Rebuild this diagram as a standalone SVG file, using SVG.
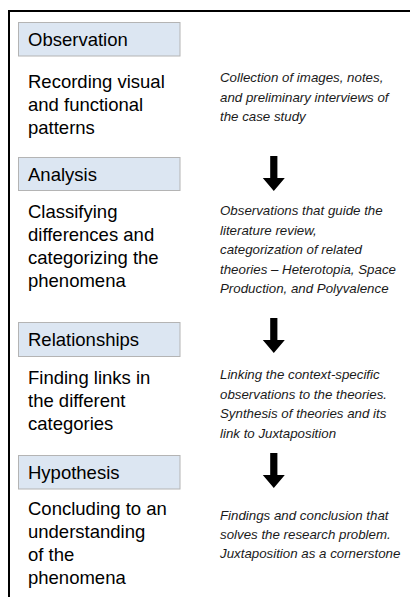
<svg xmlns="http://www.w3.org/2000/svg" width="410" height="597" viewBox="0 0 410 597">
  <defs>
    <style>
      .hdr { fill: #dce6f2; stroke: #b4b4b4; stroke-width: 1; }
      .ht { font-family: "Liberation Sans", Arial, sans-serif; font-size: 18.5px; fill: #000; }
      .bt { font-family: "Liberation Sans", Arial, sans-serif; font-size: 18.5px; fill: #000; }
      .it { font-family: "Liberation Sans", Arial, sans-serif; font-size: 13.3px; font-style: italic; fill: #1a1a1a; }
      .arr { fill: #000; }
    </style>
    <polygon id="downArrow" points="-3.6,0 3.6,0 3.6,22 11,22 0,35 -11,22 -3.6,22"/>
  </defs>
  <rect width="410" height="597" fill="#fff"/>
  <g id="frame">
    <path d="M9,597 V11 H410" fill="none" stroke="#000" stroke-width="2"/>
  </g>

  <g id="observation">
    <rect class="hdr" x="18.5" y="22.5" width="161.5" height="33.5"/>
    <text class="ht" x="28" y="46">Observation</text>
    <text class="bt" x="28" y="88">Recording visual</text>
    <text class="bt" x="28" y="111">and functional</text>
    <text class="bt" x="28" y="134">patterns</text>
  </g>
  <g id="observation-note">
    <text class="it" x="220" y="82">Collection of images, notes,</text>
    <text class="it" x="220" y="101.5">and preliminary interviews of</text>
    <text class="it" x="220" y="121">the case study</text>
  </g>

  <g id="analysis">
    <rect class="hdr" x="18.5" y="157.5" width="161.5" height="33"/>
    <text class="ht" x="28" y="181">Analysis</text>
    <text class="bt" x="28" y="218">Classifying</text>
    <text class="bt" x="28" y="241">differences and</text>
    <text class="bt" x="28" y="264">categorizing the</text>
    <text class="bt" x="28" y="287">phenomena</text>
  </g>
  <g id="analysis-note">
    <text class="it" x="220" y="215">Observations that guide the</text>
    <text class="it" x="220" y="234.5">literature review,</text>
    <text class="it" x="220" y="254">categorization of related</text>
    <text class="it" x="220" y="273.5">theories – Heterotopia, Space</text>
    <text class="it" x="220" y="293">Production, and Polyvalence</text>
  </g>

  <g id="relationships">
    <rect class="hdr" x="18.5" y="322.5" width="161.5" height="34"/>
    <text class="ht" x="28" y="346">Relationships</text>
    <text class="bt" x="28" y="384">Finding links in</text>
    <text class="bt" x="28" y="407">the different</text>
    <text class="bt" x="28" y="430">categories</text>
  </g>
  <g id="relationships-note">
    <text class="it" x="220" y="379">Linking the context-specific</text>
    <text class="it" x="220" y="398.5">observations to the theories.</text>
    <text class="it" x="220" y="418">Synthesis of theories and its</text>
    <text class="it" x="220" y="437.5">link to Juxtaposition</text>
  </g>

  <g id="hypothesis">
    <rect class="hdr" x="18.5" y="455.5" width="161.5" height="33.5"/>
    <text class="ht" x="28" y="479">Hypothesis</text>
    <text class="bt" x="28" y="515">Concluding to an</text>
    <text class="bt" x="28" y="538">understanding</text>
    <text class="bt" x="28" y="561">of the</text>
    <text class="bt" x="28" y="584">phenomena</text>
  </g>
  <g id="hypothesis-note">
    <text class="it" x="220" y="520">Findings and conclusion that</text>
    <text class="it" x="220" y="539">solves the research problem.</text>
    <text class="it" x="220" y="558">Juxtaposition as a cornerstone</text>
  </g>

  <g id="connectors">
    <use href="#downArrow" class="arr" x="273.8" y="156"/>
    <use href="#downArrow" class="arr" x="273.8" y="318"/>
    <use href="#downArrow" class="arr" x="273.8" y="453"/>
  </g>
</svg>
